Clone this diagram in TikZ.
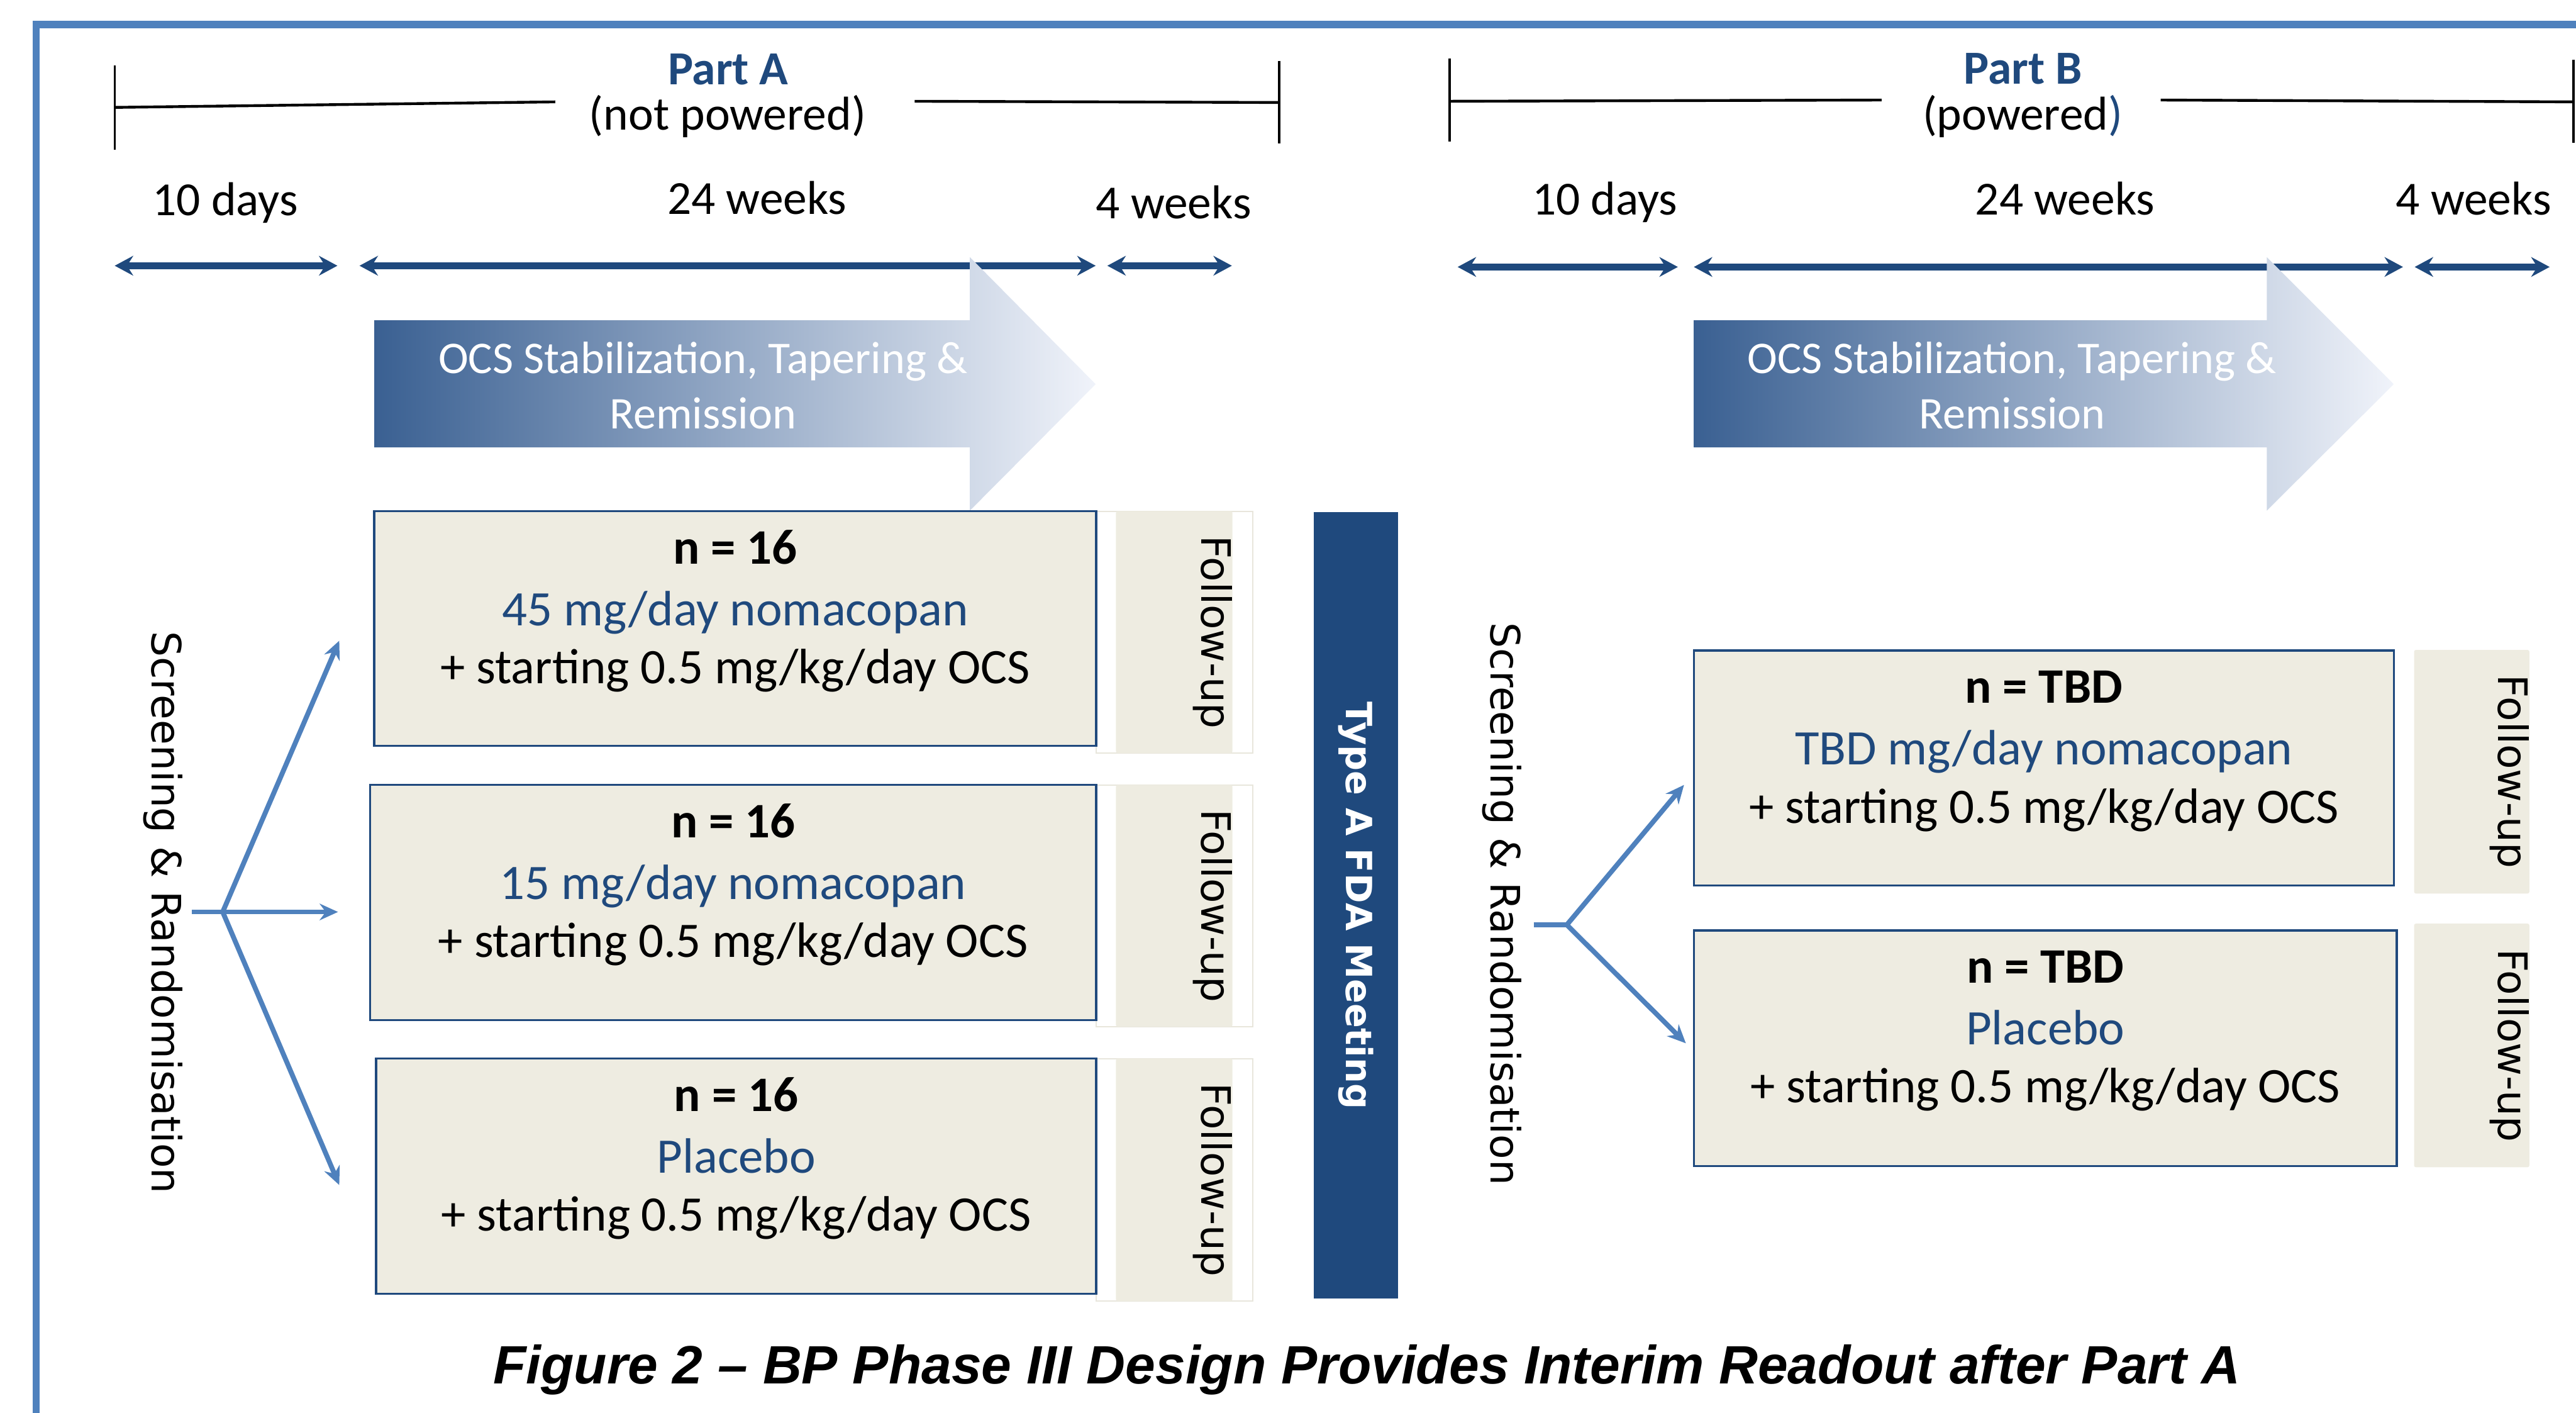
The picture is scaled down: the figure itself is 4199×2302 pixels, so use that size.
\documentclass[tikz,border=0pt]{standalone}
\usepackage{fontspec}
\setmainfont{Carlito}
\newfontfamily\labelfont{DejaVu Sans}
\newfontfamily\captionfont{Liberation Sans}
\usetikzlibrary{arrows.meta, positioning, fit}

\definecolor{frameblue}{RGB}{79,129,189}
\definecolor{navy}{RGB}{31,73,125}
\definecolor{beige}{RGB}{238,236,225}
\definecolor{faint}{RGB}{232,230,220}
\definecolor{shadeA}{RGB}{58,96,146}
\definecolor{shadeB}{RGB}{150,179,214}
\definecolor{shadeC}{RGB}{240,243,250}

\tikzset{
    parttitle/.style={anchor=base, text=navy, font=\bfseries\fontsize{22}{26}\selectfont},
    partsub/.style={anchor=base, font=\fontsize{22}{26}\selectfont},
    durlabel/.style={anchor=base, font=\fontsize{22}{26}\selectfont},
    timeline/.style={line width=0.045cm},
    tick/.style={line width=0.035cm},
    durarrow/.style={navy, line width=0.11cm, >={Stealth[length=0.3cm, width=0.32cm, inset=0.1cm]}, <->},
    branch/.style={frameblue, line width=0.08cm, line join=miter, >={Stealth[length=0.3cm, width=0.27cm, inset=0.1cm]}},
    ocstext/.style={text=white, align=center, font=\fontsize{21}{25.6}\selectfont},
    armbox/.style={draw=navy, line width=0.035cm, fill=beige, inner sep=0pt},
    armhead/.style={anchor=base, font=\bfseries\fontsize{23}{27}\selectfont},
    armdrug/.style={anchor=base, text=navy, font=\fontsize{23}{27}\selectfont},
    armocs/.style={anchor=base, font=\fontsize{23}{27}\selectfont},
    fuframe/.style={draw=faint, line width=0.02cm, inner sep=0pt},
    fubox/.style={fill=beige, rounded corners=0.03cm, inner sep=0pt},
    vertlabel/.style={rotate=-90, font=\labelfont\fontsize{18.8}{22}\selectfont},
    fdabar/.style={rotate=-90, fill=navy, text=white, inner sep=0pt,
        font=\labelfont\bfseries\fontsize{16.7}{20}\selectfont},
    captiontext/.style={anchor=base, font=\captionfont\bfseries\itshape\fontsize{25}{30}\selectfont}
}

\begin{document}
\begin{tikzpicture}[x=0.01cm, y=-0.01cm]
    \useasboundingbox (0,0) rectangle (4199,2302);

    % outer frame (open at right and bottom)
    \draw[frameblue, line width=0.12cm] (59,2320) -- (59,40) -- (4220,40);

    % Part A header
    \node[parttitle] (partA) at (1187,138) {Part A};
    \node[partsub] (partAsub) at (1186,212) {(not powered)};
    \draw[tick] (187,107) -- (187,244);
    \draw[timeline] (187,175) -- (905,166);
    \draw[timeline] (1491,165) -- (2085,167);
    \draw[tick] (2085,99) -- (2085,234);

    % Part B header
    \node[parttitle] (partB) at (3298,137) {Part B};
    \node[partsub] (partBsub) at (3297,212) {(powered\textcolor{navy}{)}};
    \draw[tick] (2363,95) -- (2363,231);
    \draw[timeline] (2363,165) -- (3067,163);
    \draw[timeline] (3522,163) -- (4195,166);
    \draw[tick] (4195,97) -- (4195,233);

    % period lengths
    \foreach \nm/\x/\y/\txt in {durA1/367/351/10 days, durA2/1234/349/24 weeks, durA3/1913/356/4 weeks,
                                durB1/2616/350/10 days, durB2/3366/350/24 weeks, durB3/4032/350/4 weeks} {
        \node[durlabel] (\nm) at (\x,\y) {\txt};
    }
    \foreach \a/\b/\y in {187/550/433, 586/1786/433, 1805/2008/433,
                          2376/2735/435, 2761/3917/435, 3936/4156/435} {
        \draw[durarrow] (\a,\y) -- (\b,\y);
    }

    % OCS block arrows
    \shade[left color=shadeA, middle color=shadeB, right color=shadeC]
        (610,522) -- (1581,522) -- (1581,419) -- (1786,626) -- (1581,832) -- (1581,729) -- (610,729) -- cycle;
    \node[ocstext] (ocsA) at (1146,628) {OCS Stabilization, Tapering \&\\Remission};
    \shade[left color=shadeA, middle color=shadeB, right color=shadeC]
        (2761,522) -- (3695,522) -- (3695,419) -- (3902,626) -- (3695,832) -- (3695,729) -- (2761,729) -- cycle;
    \node[ocstext] (ocsB) at (3280,628) {OCS Stabilization, Tapering \&\\Remission};

    % follow-up strips
    \foreach \nm/\t/\b in {fuA1/833/1227, fuA2/1279/1673, fuA3/1725/2120} {
        \node[fuframe, fit={(1787,\t) (2042,\b)}] (\nm-frame) {};
        \node[fubox, fit={(1819,\t) (2009,\b)}] (\nm) {};
        \node[vertlabel] (\nm-txt) at (1977,{(\t+\b)/2}) {Follow-up};
    }
    \foreach \nm/\t/\b in {fuB1/1059/1456, fuB2/1505/1902} {
        \node[fubox, fit={(3935,\t) (4123,\b)}] (\nm) {};
        \node[vertlabel] (\nm-txt) at (4091,{(\t+\b)/2}) {Follow-up};
    }

    % treatment arms
    \foreach \nm/\l/\t/\r/\b/\n/\drug in {
            armA1/610/833/1787/1215/16/{45 mg/day nomacopan},
            armA2/603/1279/1787/1662/16/{15 mg/day nomacopan},
            armA3/613/1725/1787/2108/16/Placebo,
            armB1/2761/1060/3902/1443/TBD/{TBD mg/day nomacopan},
            armB2/2761/1516/3907/1900/TBD/Placebo} {
        \node[armbox, fit={(\l,\t) (\r,\b)}] (\nm) {};
        \node[armhead] (\nm-n) at ({(\l+\r)/2},{\t+86}) {n = \n};
        \node[armdrug] (\nm-d) at ({(\l+\r)/2},{\t+186}) {\drug};
        \node[armocs] (\nm-o) at ({(\l+\r)/2},{\t+281}) {+ starting 0.5 mg/kg/day OCS};
    }

    % interim meeting bar
    \node[fdabar, minimum width=12.81cm, minimum height=1.37cm] (fda) at (2210.5,1475.5) {Type A FDA Meeting};

    % randomisation, Part A
    \node[vertlabel] (scrA) at (266,1487) {Screening \& Randomisation};
    \coordinate (stubA) at (313,1486);
    \coordinate (splitA) at (363,1486);
    \coordinate (tipA1) at (553,1044);
    \coordinate (tipA2) at (551,1486);
    \coordinate (tipA3) at (553,1931);
    \draw[branch, <->] (tipA1) -- (splitA) -- (tipA3);
    \draw[branch, ->] (stubA) -- (tipA2);

    % randomisation, Part B
    \node[vertlabel] (scrB) at (2448,1473) {Screening \& Randomisation};
    \coordinate (stubB) at (2500,1507);
    \coordinate (splitB) at (2554,1507);
    \coordinate (tipB1) at (2745,1279);
    \coordinate (tipB2) at (2748,1700);
    \draw[branch, <->] (tipB1) -- (splitB) -- (tipB2);
    \draw[branch] (stubB) -- (splitB);

    \node[captiontext] (caption) at (2228,2255) {Figure 2 – BP Phase III Design Provides Interim Readout after Part A};
\end{tikzpicture}
\end{document}
